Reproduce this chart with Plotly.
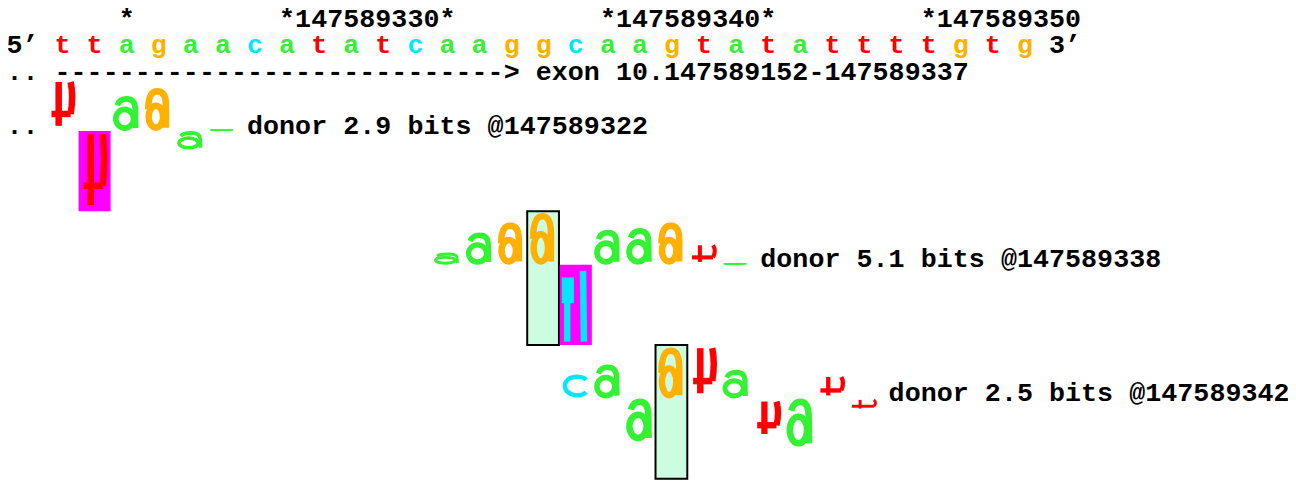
import plotly.graph_objects as go

# ---------------- data ----------------
sequence = list("ttagaacatatcaaggcaagtatattttgtg")
seq_start = 147589323
tick_positions = [147589325, 147589330, 147589335, 147589340, 147589345, 147589350]
exon_label = "exon 10.147589152-147589337"
exon_end = 147589337
walker_labels = ["donor 2.9 bits @147589322", "donor 5.1 bits @147589338", "donor 2.5 bits @147589342"]
walker_sites = [147589322, 147589338, 147589342]
walker_offsets = [-3, -2, -1, 0, 1, 2, 3, 4, 5, 6]
walker1_bits = [None, None, None, None, 1.95, -3.5, 1.3, 1.6, -0.7, 0.06]
walker2_bits = [0.45, 1.2, 1.58, 1.93, -5.2, 1.3, 1.37, 1.58, 0.8, 0.06]
walker3_bits = [0.93, 1.27, -1.6, 1.9, 2.0, 1.07, -1.5, -1.8, 0.88, -0.45]
walker_bits = [walker1_bits, walker2_bits, walker3_bits]
base_colors = {"a": "#33f233", "c": "#00e6ff", "g": "#ffb000", "t": "#ff0000"}

# ---------------- layout constants ----------------
W, H = 1296, 487
PAGE_OFF = 8    # default body margin of the html page
CW = 16.04      # px per text column
X0PX = 14.4 - PAGE_OFF   # px centre of column 0 (figure coords)
LH = 26.75      # px per line / per bit
BASE_PX = 130.9 - PAGE_OFF  # px of first walker baseline (figure coords)
FS = 26.67
FONT = "Liberation Mono, Courier New, monospace"
TEXT_DROP = 5.5  # px
TICK_Y, SEQ_Y, EXON_Y = 4, 3, 2
WALKER_Y = [0, -5, -10]
TOP_BITS, BOTTOM_BITS = 2, -3


def col_of(pos):
    return 3 + 2 * (pos - seq_start)


# ---------------- text ----------------
tx, ty, tt, tc = [], [], [], []


def put(col, row, s, color="black"):
    for k, ch in enumerate(s):
        if ch != " ":
            tx.append(col + k)
            ty.append(row + (0.35 * FS - TEXT_DROP) / LH)
            tt.append(ch)
            tc.append(color)


for p in tick_positions:
    c = col_of(p)
    put(c, TICK_Y, "*")
    if p % 10 == 0:
        put(c + 1, TICK_Y, str(p))

put(0, SEQ_Y, "5\u2019")
for i, b in enumerate(sequence):
    put(col_of(seq_start + i), SEQ_Y, b, base_colors[b])
put(col_of(seq_start + len(sequence) - 1) + 2, SEQ_Y, "3\u2019")

put(-1, EXON_Y, "...")
ce = col_of(exon_end)
put(3, EXON_Y, "-" * (ce - 3))
put(ce, EXON_Y, ">")
put(ce + 2, EXON_Y, exon_label)

shapes = []


def upath(cmds, xl, xr, yb, yt):
    out = []
    for cmd in cmds:
        letter, nums = cmd[0], cmd[1:]
        pts = []
        for k in range(0, len(nums), 2):
            x = xl + nums[k] * (xr - xl)
            y = yb + nums[k + 1] * (yt - yb)
            pts.append(f"{x:.4f},{y:.4f}")
        out.append(letter + " ".join(pts))
    return " ".join(out)


def ellipse(cx, cy, rx, ry):
    k = 0.5523
    return [
        ("M", cx + rx, cy),
        ("C", cx + rx, cy + k * ry, cx + k * rx, cy + ry, cx, cy + ry),
        ("C", cx - k * rx, cy + ry, cx - rx, cy + k * ry, cx - rx, cy),
        ("C", cx - rx, cy - k * ry, cx - k * rx, cy - ry, cx, cy - ry),
        ("C", cx + k * rx, cy - ry, cx + rx, cy - k * ry, cx + rx, cy),
    ]


GLYPHS = {
    "a": [("stroke", ellipse(0.42, 0.32, 0.36, 0.32)),
          ("stroke", [("M", 0.86, 0.0), ("L", 0.85, 0.62),
                      ("C", 0.85, 0.92, 0.68, 1.0, 0.5, 1.0),
                      ("C", 0.32, 1.0, 0.18, 0.92, 0.12, 0.78)])],
    "g": [("stroke", ellipse(0.38, 0.3, 0.3, 0.3)),
          ("stroke", [("M", 0.8, 0.0), ("L", 0.8, 0.62),
                      ("C", 0.8, 0.92, 0.62, 1.0, 0.44, 1.0),
                      ("C", 0.2, 1.0, 0.06, 0.85, 0.06, 0.5)])],
    "t": [("stroke", [("M", 0.34, 0.04), ("L", 0.34, 1.0)]),
          ("stroke", [("M", 0.04, 0.3), ("L", 0.84, 0.3)]),
          ("stroke", [("M", 0.84, 0.3), ("C", 0.92, 0.55, 0.92, 0.8, 0.84, 1.0)])],
    "c": [("stroke", [("M", 0.9, 0.8), ("C", 0.74, 1.04, 0.1, 1.04, 0.08, 0.5),
                      ("C", 0.1, -0.04, 0.74, -0.04, 0.9, 0.2)])],
    "c_neg": [("stroke", [("M", 0.14, 0.0), ("L", 0.14, 0.6)]),
              ("fill", [("M", 0.04, 0.52), ("L", 0.44, 0.52), ("L", 0.44, 0.84),
                        ("L", 0.04, 0.84), ("Z",)]),
              ("stroke", [("M", 0.84, 0.0), ("L", 0.8, 0.96)])],
}


def add_glyph(base, col, yb, yt, clipped):
    hpx = (yt - yb) * LH
    sw = max(1.5, min(6.5, 1.5 + 0.12 * hpx))
    padv = min(sw / 2 / LH, (yt - yb) / 2)
    half = 0.95
    padu = sw / 2 / CW
    xl, xr = col - half + padu, col + half - padu
    key = base + "_neg" if (clipped and base + "_neg" in GLYPHS) else base
    for kind, cmds in GLYPHS[key]:
        if kind == "stroke":
            shapes.append(dict(type="path", xref="x", yref="y",
                               path=upath(cmds, xl, xr, yb + padv, yt - padv),
                               line=dict(color=base_colors[base], width=sw)))
        else:
            shapes.append(dict(type="path", xref="x", yref="y",
                               path=upath(cmds, col - half, col + half, yb, yt),
                               fillcolor=base_colors[base], line=dict(width=0)))


# ---------------- walkers ----------------
for w, site in enumerate(walker_sites):
    yb0 = WALKER_Y[w]
    bits = walker_bits[w]
    idx0 = site - seq_start
    if 0 <= idx0 < len(sequence):
        c = col_of(site)
        shapes.append(dict(type="rect", xref="x", yref="y", x0=c - 1.03, x1=c + 0.95,
                           y0=yb0 + BOTTOM_BITS, y1=yb0 + TOP_BITS,
                           fillcolor="#ccfde0", line=dict(color="black", width=2)))
    if idx0 + walker_offsets[0] < 0:
        put(-1, yb0, "...")
    for off, b in zip(walker_offsets, bits):
        idx = idx0 + off
        if b is None or idx < 0 or idx >= len(sequence):
            continue
        c = col_of(seq_start + idx)
        base = sequence[idx]
        clipped = b < BOTTOM_BITS
        if clipped:
            shapes.append(dict(type="rect", xref="x", yref="y", x0=c - 1.0, x1=c + 1.0,
                               y0=yb0 + BOTTOM_BITS, y1=yb0, fillcolor="#ff00ff",
                               line=dict(width=0)))
        if b >= 0:
            add_glyph(base, c, yb0, yb0 + b, False)
        else:
            add_glyph(base, c, yb0 + max(b, BOTTOM_BITS), yb0, clipped)
    put(col_of(site + walker_offsets[-1]) + 2, yb0, walker_labels[w])

fig = go.Figure()
fig.add_trace(go.Scatter(x=tx, y=ty, text=tt, mode="text", textposition="middle center",
                         textfont=dict(family=FONT, size=FS, color=tc, weight="bold"),
                         hoverinfo="skip", showlegend=False, cliponaxis=False))
fig.update_layout(
    width=W, height=H, margin=dict(l=0, r=0, t=0, b=0),
    paper_bgcolor="white", plot_bgcolor="white", shapes=shapes, showlegend=False,
    xaxis=dict(range=[-X0PX / CW, (W - X0PX) / CW], visible=False, fixedrange=True),
    yaxis=dict(range=[(BASE_PX - H) / LH, BASE_PX / LH], visible=False, fixedrange=True),
)
fig.write_html("out.html")
